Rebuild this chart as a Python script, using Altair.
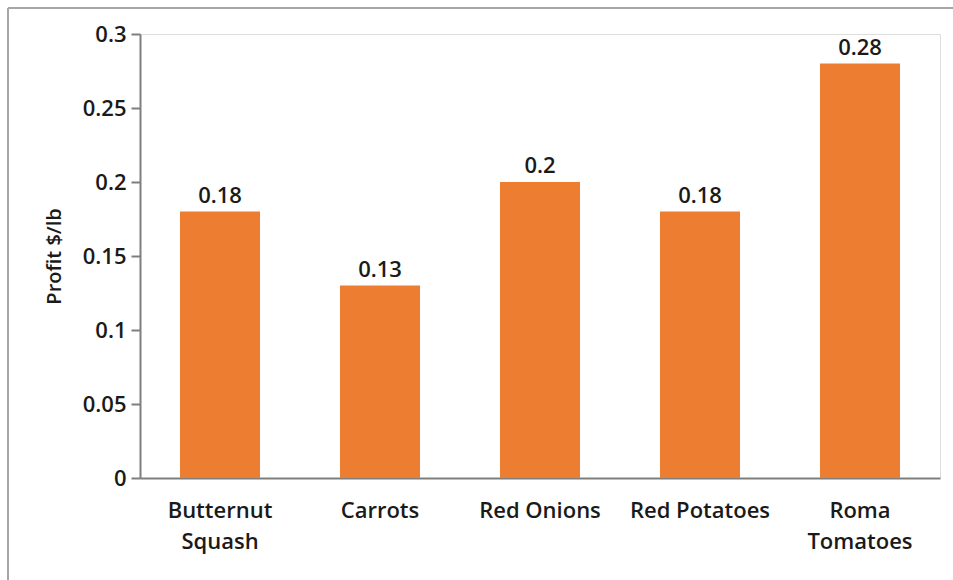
import altair as alt
import pandas as pd

# Profit per pound by crop
crops = ["Butternut Squash", "Carrots", "Red Onions", "Red Potatoes", "Roma Tomatoes"]
profit = [0.18, 0.13, 0.2, 0.18, 0.28]
y_ticks = [0, 0.05, 0.1, 0.15, 0.2, 0.25, 0.3]

df = pd.DataFrame({"crop": crops, "profit": profit})

FONT = "Open Sans"
WEIGHT = 600
SIZE = 22
ORANGE = "#ED7D31"
TEXT = "#1a1a1a"
W, H = 800, 444
LEFT, TOP = 140, 34

label_expr = (
    "datum.label == 'Butternut Squash' ? ['Butternut', 'Squash'] : "
    "datum.label == 'Roma Tomatoes' ? ['Roma', 'Tomatoes'] : datum.label"
)

x_enc = alt.X(
    "crop:N",
    sort=crops,
    scale=alt.Scale(paddingInner=0.5, paddingOuter=0.25),
    axis=alt.Axis(
        title=None,
        labelAngle=0,
        labelExpr=label_expr,
        labelFont=FONT,
        labelFontSize=SIZE,
        labelFontWeight=WEIGHT,
        labelColor=TEXT,
        labelPadding=22,
        labelLineHeight=31,
        ticks=False,
        domainColor="#7f7f7f",
        domainWidth=2,
        grid=False,
    ),
)
y_enc = alt.Y(
    "profit:Q",
    scale=alt.Scale(domain=[0, 0.3], nice=False),
    axis=alt.Axis(
        title="Profit $/lb",
        titleFont=FONT,
        titleFontSize=20,
        titleFontWeight=WEIGHT,
        titleColor=TEXT,
        titlePadding=18,
        values=y_ticks,
        labelExpr="format(datum.value, '.2~f')",
        labelFont=FONT,
        labelFontSize=SIZE,
        labelFontWeight=WEIGHT,
        labelColor=TEXT,
        labelPadding=5,
        tickSize=9,
        tickColor="#7f7f7f",
        tickWidth=2,
        domainColor="#7f7f7f",
        domainWidth=2,
        grid=False,
    ),
)

bars = alt.Chart(df).mark_bar(color=ORANGE).encode(x=x_enc, y=y_enc)

labels = alt.Chart(df).mark_text(
    font=FONT, fontSize=SIZE, fontWeight=WEIGHT, color=TEXT, baseline="bottom", dy=-4
).encode(x=alt.X("crop:N", sort=crops), y="profit:Q", text=alt.Text("profit:Q"))

# outer page frame lines
frame_top = alt.Chart(df).mark_rule(color="#a6a6a6", strokeWidth=2, clip=False).encode(
    x=alt.value(8 - LEFT), x2=alt.value(953 - LEFT), y=alt.value(8 - TOP)
)
frame_left = alt.Chart(df).mark_rule(color="#a6a6a6", strokeWidth=2, clip=False).encode(
    x=alt.value(8 - LEFT), y=alt.value(8 - TOP), y2=alt.value(580 - TOP)
)

chart = (
    alt.layer(frame_top, frame_left, bars, labels)
    .properties(
        width=W,
        height=H,
        padding={"left": LEFT, "top": TOP, "right": 13, "bottom": 102},
        autosize=alt.AutoSizeParams(type="none"),
    )
    .configure_view(stroke="#d0d0d0", strokeWidth=2)
    .configure(background="white")
)

chart.save("out.html", embed_options={"renderer": "svg", "actions": False})
